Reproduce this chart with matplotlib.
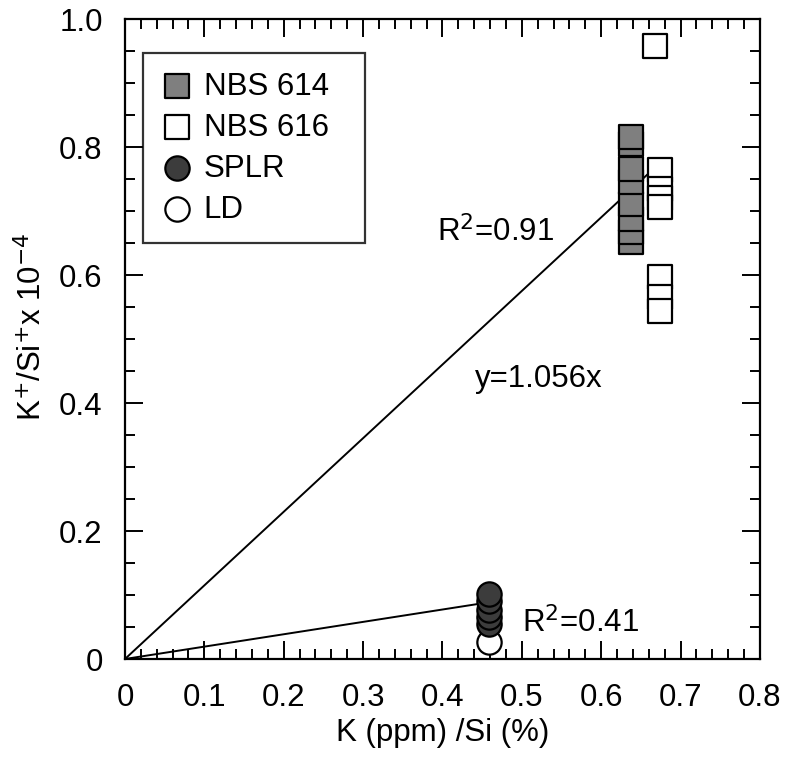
import matplotlib.pyplot as plt
from matplotlib.ticker import MultipleLocator, FixedLocator, FixedFormatter

plt.rcParams['font.family'] = ['Liberation Sans', 'DejaVu Sans']

# NBS 614 (grey squares)
nbs614_x = [0.638, 0.638, 0.638, 0.638, 0.638, 0.638, 0.638, 0.638]
nbs614_y = [0.816, 0.805, 0.766, 0.745, 0.711, 0.688, 0.667, 0.652]

# NBS 616 (open squares)
nbs616_x = [0.668, 0.674, 0.674, 0.674, 0.674, 0.674, 0.674, 0.674]
nbs616_y = [0.958, 0.764, 0.735, 0.72, 0.706, 0.597, 0.565, 0.544]

# SPLR (dark circles) and LD (open circles)
splr_x = [0.459, 0.459, 0.459, 0.459, 0.459]
splr_y = [0.102, 0.09, 0.077, 0.066, 0.055]
ld_x = [0.459]
ld_y = [0.027]

# regression lines
fit1_x = [0, 0.659]
fit1_y = [0, 0.758]
fit2_x = [0, 0.45]
fit2_y = [0, 0.087]

x_ticks = [0, 0.1, 0.2, 0.3, 0.4, 0.5, 0.6, 0.7, 0.8]
x_labels = ["0", "0.1", "0.2", "0.3", "0.4", "0.5", "0.6", "0.7", "0.8"]
y_ticks = [0, 0.2, 0.4, 0.6, 0.8, 1.0]
y_labels = ["0", "0.2", "0.4", "0.6", "0.8", "1.0"]

fig = plt.figure(figsize=(7.85, 7.58), dpi=100)
ax = fig.add_axes([0.1592, 0.1306, 0.8089, 0.8443])

fs = 22.5
ms = 17.5 ** 2
ax.plot(fit1_x, fit1_y, color="black", lw=1.4, zorder=1)
ax.plot(fit2_x, fit2_y, color="black", lw=1.4, zorder=1)

ax.scatter(nbs614_x[::-1], nbs614_y[::-1], marker="s", s=ms, facecolor="#7f7f7f",
           edgecolor="black", linewidth=1.6, label="NBS 614", zorder=3)
ax.scatter(nbs616_x, nbs616_y, marker="s", s=ms, facecolor="white",
           edgecolor="black", linewidth=1.6, label="NBS 616", zorder=3)
ax.scatter(ld_x, ld_y, marker="o", s=ms, facecolor="white",
           edgecolor="black", linewidth=1.6, label="LD", zorder=3)
ax.scatter(splr_x[::-1], splr_y[::-1], marker="o", s=ms, facecolor="#3c3c3c",
           edgecolor="black", linewidth=1.6, label="SPLR", zorder=4)

ax.text(0.393, 0.652, "R$^2$=0.91", fontsize=fs, va="baseline", ha="left")
ax.text(0.441, 0.425, "y=1.056x", fontsize=fs, va="baseline", ha="left")
ax.text(0.500, 0.041, "R$^2$=0.41", fontsize=fs, va="baseline", ha="left")

ax.set_xlim(0, 0.8)
ax.set_ylim(0, 1.0)
ax.xaxis.set_major_locator(FixedLocator(x_ticks))
ax.xaxis.set_major_formatter(FixedFormatter(x_labels))
ax.yaxis.set_major_locator(FixedLocator(y_ticks))
ax.yaxis.set_major_formatter(FixedFormatter(y_labels))
ax.xaxis.set_minor_locator(MultipleLocator(0.02))
ax.yaxis.set_minor_locator(MultipleLocator(0.05))
ax.tick_params(which="both", direction="in", top=True, right=True, width=1.4)
ax.tick_params(which="major", length=13, labelsize=fs)
ax.tick_params(axis="x", which="major", pad=17)
ax.tick_params(axis="y", which="major", pad=16)
ax.tick_params(which="minor", length=7)
for s in ax.spines.values():
    s.set_linewidth(1.6)

ax.set_xlabel("K (ppm) /Si (%)", fontsize=fs, labelpad=4)
ax.set_ylabel("K$^{+}$/Si$^{+}$x 10$^{-4}$", fontsize=fs, labelpad=8)
ax.yaxis.label.set_y(0.519)

handles, labels = ax.get_legend_handles_labels()
order = [labels.index(n) for n in ["NBS 614", "NBS 616", "SPLR", "LD"]]
leg = ax.legend([handles[i] for i in order], [labels[i] for i in order],
                loc="upper left", bbox_to_anchor=(0.028, 0.947, 0.35, 0.0),
                mode="expand", fontsize=fs,
                frameon=True, fancybox=False, edgecolor="black",
                handletextpad=0.35, borderpad=0.6, labelspacing=0.35,
                handlelength=1.0, borderaxespad=0, markerscale=1.0)
leg.get_frame().set_linewidth(1.6)

fig.savefig("out.png", dpi=100)
